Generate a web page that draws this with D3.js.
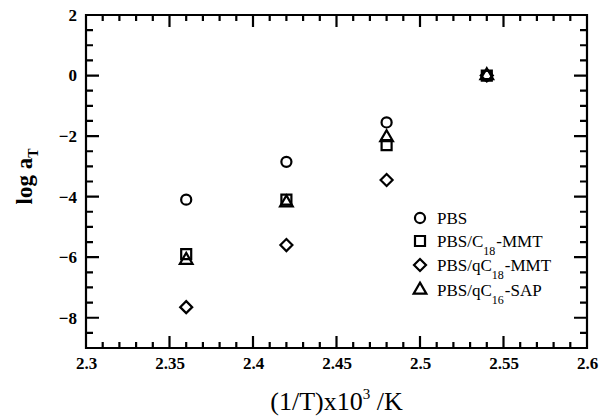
<!DOCTYPE html>
<html>
<head>
<meta charset="utf-8">
<script src="https://cdn.jsdelivr.net/npm/d3@7"></script>
<style>
  body { margin: 0; background: #fff; }
  svg { font-family: "Liberation Serif", "Times New Roman", serif; }
</style>
</head>
<body>
<div id="chart"></div>
<script>
// inverse temperature, (1/T)x10^3
var invT = [2.36, 2.42, 2.48, 2.54];
// log aT per sample
var pbs = [-4.1, -2.85, -1.55, 0];
var c18mmt = [-5.9, -4.1, -2.3, 0];
var qc18mmt = [-7.65, -5.6, -3.45, 0];
var qc16sap = [-6.1, -4.2, -2.05, 0];
var seriesNames = ["PBS", "PBS/C18-MMT", "PBS/qC18-MMT", "PBS/qC16-SAP"];
var xTicks = [2.3, 2.35, 2.4, 2.45, 2.5, 2.55, 2.6];
var yTicks = [2, 0, -2, -4, -6, -8];

var W = 601, H = 420;
var mL = 86, mR = 587, mT = 15, mB = 348;

var svg = d3.select("#chart").append("svg")
    .attr("width", W)
    .attr("height", H);

var x = d3.scaleLinear().domain([2.3, 2.6]).range([mL, mR]);
var y = d3.scaleLinear().domain([-9, 2]).range([mB, mT]);

// minor tick positions
var xMinor = d3.range(0, 31).map(function(i) { return 2.3 + i * 0.01; }).filter(function(v, i) { return i % 5 !== 0; });
var yMinor = d3.range(0, 23).map(function(i) { return -9 + i * 0.5; }).filter(function(v) { return v % 2 !== 0; });

// tick labels from d3 axes
svg.append("g").attr("class", "xmaj").attr("transform", "translate(0," + mB + ")")
  .call(d3.axisBottom(x).tickValues(xTicks).tickSize(0).tickPadding(9).tickFormat(d3.format("")));
svg.append("g").attr("class", "ymaj").attr("transform", "translate(" + mL + ",0)")
  .call(d3.axisLeft(y).tickValues(yTicks).tickSize(0).tickPadding(9).tickFormat(d3.format("")));
svg.selectAll(".xmaj .domain, .ymaj .domain").remove();
svg.selectAll(".xmaj text, .ymaj text")
  .attr("font-size", 17).attr("font-weight", "bold").attr("fill", "#000")
  .attr("font-family", "Liberation Serif, serif");

// frame plus inward ticks on all four sides, one path
var fp = d3.path();
fp.rect(mL, mT, mR - mL, mB - mT);
function addX(v, len) {
  fp.moveTo(x(v), mB); fp.lineTo(x(v), mB - len);
  fp.moveTo(x(v), mT); fp.lineTo(x(v), mT + len);
}
function addY(v, len) {
  fp.moveTo(mL, y(v)); fp.lineTo(mL + len, y(v));
  fp.moveTo(mR, y(v)); fp.lineTo(mR - len, y(v));
}
xMinor.forEach(function(v) { addX(v, 6); });
xTicks.forEach(function(v) { addX(v, 12); });
yMinor.forEach(function(v) { addY(v, 7); });
yTicks.forEach(function(v) { addY(v, 13); });
svg.append("path")
  .attr("d", fp.toString())
  .attr("fill", "none").attr("stroke", "#000").attr("stroke-width", 2.2);

// markers
function rotSquare(s) {
  return "M0," + (-s) + "L" + s + ",0L0," + s + "L" + (-s) + ",0Z";
}
var symCircle = d3.symbol().type(d3.symbolCircle).size(80);
var symSquare = d3.symbol().type(d3.symbolSquare).size(100);
var symTriangle = d3.symbol().type(d3.symbolTriangle).size(70);
var markers = [symCircle(), symSquare(), rotSquare(6), symTriangle()];
var allSeries = [pbs, c18mmt, qc18mmt, qc16sap];

allSeries.forEach(function(vals, si) {
  svg.append("g").selectAll("path")
    .data(vals)
    .enter().append("path")
    .attr("d", markers[si])
    .attr("transform", function(d, i) { return "translate(" + x(invT[i]) + "," + y(d) + ")"; })
    .attr("fill", "none")
    .attr("stroke", "#000")
    .attr("stroke-width", 2.2);
});

// legend
var legY = [218, 241, 265, 290];
var leg = svg.append("g");
seriesNames.forEach(function(name, i) {
  leg.append("path")
    .attr("d", markers[i])
    .attr("transform", "translate(420," + legY[i] + ")")
    .attr("fill", "none").attr("stroke", "#000").attr("stroke-width", 2.2);
  var t = leg.append("text")
    .attr("x", 437).attr("y", legY[i] + 6)
    .attr("font-size", 17).attr("fill", "#000");
  var m = name.match(/^(.*C)(\d\d)(.*)$/);
  if (m) {
    t.append("tspan").text(m[1]);
    t.append("tspan").attr("font-size", 12).attr("dy", 8).text(m[2]);
    t.append("tspan").attr("dy", -8).attr("dx", 1).text(m[3]);
  } else {
    t.text(name);
  }
});

// axis titles
var xt = svg.append("text")
  .attr("x", (mL + mR) / 2).attr("y", 410)
  .attr("text-anchor", "middle")
  .attr("font-size", 26).attr("fill", "#000");
xt.append("tspan").text("(1/T)x10");
xt.append("tspan").attr("font-size", 15).attr("dy", -11).text("3");
xt.append("tspan").attr("dy", 11).text(" /K");

var yt = svg.append("text")
  .attr("transform", "translate(32," + ((mT + mB) / 2 - 5) + ") rotate(-90)")
  .attr("text-anchor", "middle")
  .attr("font-size", 23).attr("font-weight", "bold").attr("fill", "#000");
yt.append("tspan").text("log a");
yt.append("tspan").attr("font-size", 14).attr("dy", 6).text("T");
</script>
</body>
</html>
